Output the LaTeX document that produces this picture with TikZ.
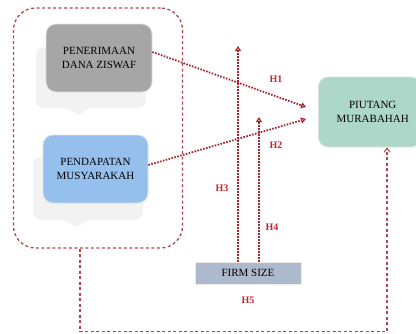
\documentclass[tikz,border=0pt]{standalone}
\usepackage{fontspec}
\setmainfont{Liberation Serif}
\usetikzlibrary{arrows.meta}
\definecolor{dred}{HTML}{A3262C}
\definecolor{lred}{HTML}{B4474B}
\definecolor{hred}{HTML}{C0282D}
\definecolor{gbox}{HTML}{A6A6A6}
\definecolor{bbox}{HTML}{95C0EE}
\definecolor{gnbox}{HTML}{ADD7C8}
\definecolor{fbox}{HTML}{ADBACD}
\definecolor{shad}{HTML}{F2F2F2}
\tikzset{
  txt/.style={font=\fontsize{11}{13.5}\selectfont, align=center, text=black},
  card/.style={draw=black!12, line width=0.8pt, rounded corners=10pt},
  dotarrow/.style={dred, line width=1.8pt, dash pattern=on 1.6pt off 1.4pt, -{Triangle[open, length=5pt, width=6pt, line width=1.2pt, fill=white]}},
  dashline/.style={lred, line width=1.3pt, dash pattern=on 3pt off 2.5pt},
  hlab/.style={text=hred, font=\fontsize{10}{12}\selectfont\bfseries}
}
\begin{document}
\begin{tikzpicture}[x=1pt,y=-1pt]
\useasboundingbox (0,0) rectangle (416,333);
% shadows
\fill[shad, rounded corners=8pt] (36,47) -- (146,47) -- (146,108) -- (84,108) -- (80,118) -- (70,108) -- (36,108) -- cycle;
\fill[shad, rounded corners=8pt] (33,157) -- (143,157) -- (143,220) -- (82,220) -- (78,230) -- (68,220) -- (33,220) -- cycle;
% boxes
\node[card, fill=gbox, minimum width=106pt, minimum height=68pt, txt] (zis) at (99,58) {PENERIMAAN\\DANA ZISWAF};
\node[card, fill=bbox, minimum width=105pt, minimum height=68pt, txt] (mus) at (95.5,169) {PENDAPATAN\\MUSYARAKAH};
\node[card, fill=gnbox, minimum width=100pt, minimum height=70pt, anchor=west, txt, text width=96pt] (piu) at (318,112) {\hspace*{6pt}PIUTANG\\\hspace*{6pt}MURABAHAH};
\node[fill=fbox, draw=black!8, minimum width=106pt, minimum height=22pt, inner sep=0pt, txt] (firm) at (248,273) {FIRM SIZE};
% outer dashed group
\node[draw=lred, line width=1.3pt, dash pattern=on 3pt off 2.5pt, rounded corners=22pt, minimum width=169pt, minimum height=240pt] (grp) at (98,128) {};
% arrows H1 H2
\coordinate (h1end) at (306,107);
\coordinate (h2end) at (306,119);
\draw[dotarrow] (zis.east |- 0,52) -- (h1end);
\draw[dotarrow] (mus.east |- 0,165) -- (h2end);
% vertical arrows
\coordinate (v1top) at (238,46);
\coordinate (v2top) at (259,117);
\draw[dotarrow] (firm.north -| v1top) -- (v1top);
\draw[dotarrow] (firm.north -| v2top) -- (v2top);
% bottom return line
\coordinate (b1) at (80,331.5);
\coordinate (b2) at (387,331.5);
\draw[dashline, -{Straight Barb[length=4pt, width=6pt, line width=1pt]}] (grp.south -| b1) -- (b1) -- (b2) -- (piu.south -| b2);
% labels
\node[hlab] (lh1) at (276,79) {H1};
\node[hlab] (lh2) at (276,145) {H2};
\node[hlab] (lh3) at (222,188) {H3};
\node[hlab] (lh4) at (272,227) {H4};
\node[hlab] (lh5) at (248,300) {H5};
\end{tikzpicture}
\end{document}
